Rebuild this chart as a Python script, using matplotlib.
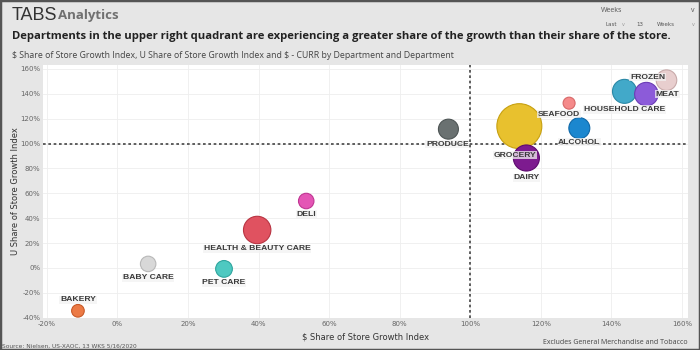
import matplotlib
matplotlib.use("Agg")
import matplotlib.pyplot as plt
from matplotlib.patches import Rectangle
from matplotlib.ticker import FuncFormatter

# department data (index values in %)
departments = ["BAKERY", "BABY CARE", "PET CARE", "HEALTH & BEAUTY CARE", "DELI", "PRODUCE",
               "GROCERY", "DAIRY", "SEAFOOD", "ALCOHOL", "HOUSEHOLD CARE", "MEAT", "FROZEN"]
dollar_share_idx = [-11.2, 8.7, 30.2, 39.6, 53.5, 93.8, 113.9, 115.9, 128.0, 130.9, 143.7, 149.9, 155.6]
unit_share_idx = [-34.5, 3.2, -0.8, 30.5, 53.8, 111.6, 114.0, 88.4, 132.5, 112.4, 142.0, 139.8, 151.0]
dollars_curr = [2.0, 3.0, 3.5, 9.4, 3.0, 5.0, 25.3, 8.5, 1.8, 5.5, 7.2, 6.9, 5.3]

x_ticks = [-20, 0, 20, 40, 60, 80, 100, 120, 140, 160]
y_ticks = [-40, -20, 0, 20, 40, 60, 80, 100, 120, 140, 160]

colors = ["#ec7a45", "#d8d8d8", "#4ec9c1", "#e05260", "#e455b5", "#6a7171",
          "#e8c12e", "#7d1b8f", "#f58a8a", "#1b87cf", "#42a9c9", "#8c5bd9", "#e8cece"]
edges = ["#c85a28", "#b8b8b8", "#2fa59e", "#b83442", "#c03592", "#4e5555",
         "#c7a010", "#5d0a6e", "#d86868", "#0f68a8", "#2a88a6", "#6b3cb5", "#c8aaaa"]

# label offsets from bubble centre, in pixels (dx right, dy down)
label_offsets = {
    "BAKERY": (0, -11), "BABY CARE": (0, 14), "PET CARE": (0, 14),
    "HEALTH & BEAUTY CARE": (0, 19), "DELI": (0, 13), "PRODUCE": (-1, 15),
    "GROCERY": (-4, 29), "DAIRY": (0, 20), "SEAFOOD": (-10, 11),
    "ALCOHOL": (0, 14), "HOUSEHOLD CARE": (0, 18), "MEAT": (21, 0), "FROZEN": (-19, -3),
}

BG = "#e6e6e6"
fig = plt.figure(figsize=(7, 3.5), dpi=100, facecolor=BG)
ax = fig.add_axes([43 / 700, 1 - 318 / 350, 645 / 700, 253 / 350])
ax.set_facecolor("white")

ax.set_xlim(-21.1, 161.7)
ax.set_ylim(-40.3, 163.2)
ax.set_xticks(x_ticks)
ax.set_yticks(y_ticks)
pct = FuncFormatter(lambda v, p: f"{v:.0f}%")
ax.xaxis.set_major_formatter(pct)
ax.yaxis.set_major_formatter(pct)
ax.tick_params(length=0, labelsize=5, colors="#666666", pad=2)
for s in ax.spines.values():
    s.set_visible(False)
ax.grid(True, color="#eeeeee", lw=0.6)
ax.set_axisbelow(True)

ax.axvline(100, color="#444444", lw=1.2, ls=(0, (1.6, 1.6)), zorder=1)
ax.axhline(100, color="#444444", lw=1.2, ls=(0, (1.6, 1.6)), zorder=1)

sizes = [d * 41.4 for d in dollars_curr]
ax.scatter(dollar_share_idx, unit_share_idx, s=sizes, c=colors, edgecolors=edges,
           linewidths=0.8, zorder=3)

for name, x, y in zip(departments, dollar_share_idx, unit_share_idx):
    dx, dy = label_offsets[name]
    ax.annotate(name, (x, y), xytext=(dx * 0.72, -dy * 0.72), textcoords="offset points",
                ha="center", va="center", fontsize=6.1, fontweight="bold", color="#3a3a3a",
                family="Liberation Sans", zorder=5,
                bbox=dict(boxstyle="square,pad=0.08", fc="#f2f2f2", ec="none", alpha=0.75))

ax.set_xlabel(r"\$ Share of Store Growth Index", fontsize=6, color="#333333", labelpad=4)
ax.set_ylabel("U Share of Store Growth Index", fontsize=6, color="#333333")
ax.yaxis.set_label_coords(-23 / 645, 0.5)

# header
fig.text(12 / 700, 1 - 15 / 350, "TABS", fontsize=13, color="#333333", va="center",
         family="Liberation Sans")
fig.text(58 / 700, 1 - 16 / 350, "Analytics", fontsize=9.5, fontweight="bold",
         color="#707070", va="center", family="Open Sans")
fig.text(12 / 700, 1 - 37 / 350,
         "Departments in the upper right quadrant are experiencing a greater share of the growth "
         "than their share of the store.",
         fontsize=8.1, fontweight="bold", color="#222222", va="center", family="Open Sans")
fig.text(12 / 700, 1 - 55 / 350,
         r"\$ Share of Store Growth Index, U Share of Store Growth Index and \$ - CURR by "
         "Department and Department",
         fontsize=6.35, color="#444444", va="center", family="Open Sans")

# slicer widget top right
small = dict(fontsize=5, color="#555555", va="center", family="Open Sans")
fig.text(601 / 700, 1 - 10 / 350, "Weeks", **small)
fig.text(693 / 700, 1 - 10 / 350, "v", ha="center", **small)
fig.text(606 / 700, 1 - 25 / 350, "Last", fontsize=4, color="#555555", va="center")
fig.text(622 / 700, 1 - 25 / 350, "v", fontsize=3.5, color="#999999", va="center")
fig.text(636 / 700, 1 - 25 / 350, "13", fontsize=4, color="#555555", va="center")
fig.text(657 / 700, 1 - 25 / 350, "Weeks", fontsize=4, color="#555555", va="center")
fig.text(693 / 700, 1 - 25 / 350, "v", fontsize=3.5, color="#999999", va="center", ha="center")

# footer
fig.text(2 / 700, 1 - 346 / 350, "Source: Nielsen, US-XAOC, 13 WKS 5/16/2020",
         fontsize=4.2, color="#555555", va="center")
fig.text(615 / 700, 1 - 343 / 350, "Excludes General Merchandise and Tobacco",
         fontsize=5, color="#444444", va="center", ha="center", family="Open Sans")

fig.patches.append(Rectangle((0, 0), 1, 1, transform=fig.transFigure, fill=False,
                             ec="#555555", lw=2.5))

fig.savefig("out.png", dpi=100, facecolor=BG)
